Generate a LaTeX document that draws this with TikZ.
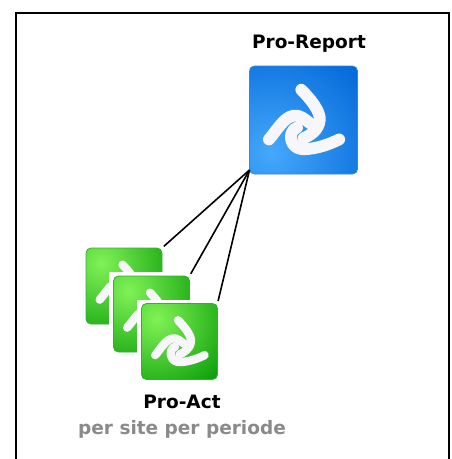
\documentclass[tikz,border=0pt]{standalone}
\usepackage{fontspec}
\usetikzlibrary{calc}
\setmainfont{DejaVu Sans}
\definecolor{bluelight}{HTML}{45A8FC}
\definecolor{bluedark}{HTML}{0066D6}
\definecolor{greenlight}{HTML}{80F256}
\definecolor{greendark}{HTML}{069A06}
\definecolor{swirlwhite}{HTML}{F6F6FB}
\definecolor{subgray}{HTML}{8A8A8A}
% #1 name, #2 centre, #3 size, #4 light, #5 dark, #6 #7 bright spot
\newcommand{\iconnode}[7]{%
  \node[iconbox,minimum size=#3pt] (#1) at #2 {};
  \fill[white] ($(#1.north west)+(-5,-4)$) rectangle ($(#1.south east)+(1,1)$);
  \begin{scope}[shift={(#1.north west)},x=#3pt,y=-#3pt]
    \begin{scope}
      \clip[rounded corners=5pt] (0,0) rectangle (1,1);
      \fill[#5] (0,0) rectangle (1,1);
      \shade[inner color=#4,outer color=#5] (#6,#7) circle (1.15);
      \draw[swirlwhite,line width={0.11*#3pt},line cap=round,line join=round]
        (.48,.22) .. controls (.56,.30) and (.66,.42) .. (.65,.50)
        .. controls (.64,.60) and (.56,.64) .. (.50,.67);
      \draw[swirlwhite,line width={0.11*#3pt},line cap=round,line join=round]
        (.18,.68) .. controls (.25,.60) and (.32,.47) .. (.41,.46)
        .. controls (.47,.45) and (.52,.50) .. (.56,.53);
      \draw[swirlwhite,line width={0.11*#3pt},line cap=round,line join=round]
        (.83,.68) .. controls (.75,.72) and (.62,.77) .. (.50,.77)
        .. controls (.40,.77) and (.37,.68) .. (.39,.62)
        .. controls (.40,.59) and (.42,.58) .. (.44,.57);
    \end{scope}
    \draw[#5!80!white,line width=.8pt,rounded corners=5pt] (0,0) rectangle (1,1);
  \end{scope}%
}
\tikzset{
  iconbox/.style={rectangle,inner sep=0pt,outer sep=0pt},
  title/.style={font=\bfseries\fontsize{18.5}{22}\selectfont,text=black,inner sep=0pt},
  subtitle/.style={font=\bfseries\fontsize{18.5}{22}\selectfont,text=subgray,inner sep=0pt},
  link/.style={draw=black,line width=1.6pt,shorten >=2.5pt},
  frameline/.style={draw=black,line width=2pt}
}
\begin{document}
\begin{tikzpicture}[x=1pt,y=-1pt]
  \useasboundingbox (0,0) rectangle (452,459);
  \fill[white] (0,0) rectangle (452,459);
  \coordinate (fa) at (15.5,470);
  \coordinate (fb) at (15.5,12.5);
  \coordinate (fc) at (448.5,12.5);
  \coordinate (fd) at (448.5,470);
  \draw[frameline] (fa) -- (fb) -- (fc) -- (fd);
  \node[title] (tr) at (309,44) {Pro-Report};
  \iconnode{rep}{(303.5,120)}{108}{bluelight}{bluedark}{.2}{.8}
  \iconnode{g1}{(124,286)}{76}{greenlight}{greendark}{.2}{.2}
  \iconnode{g2}{(151.5,314)}{76}{greenlight}{greendark}{.2}{.2}
  \iconnode{g3}{(179.5,341.5)}{76}{greenlight}{greendark}{.2}{.2}
  \coordinate (hub) at ($(rep.south west)+(0,-4)$);
  \draw[link] (hub) -- (g1.north east);
  \draw[link] (hub) -- (g2.north east);
  \draw[link] (hub) -- (g3.north east);
  \node[title] (ta) at (182,401.5) {Pro-Act};
  \node[subtitle] (ts) at (182,429.5) {per site per periode};
\end{tikzpicture}
\end{document}
